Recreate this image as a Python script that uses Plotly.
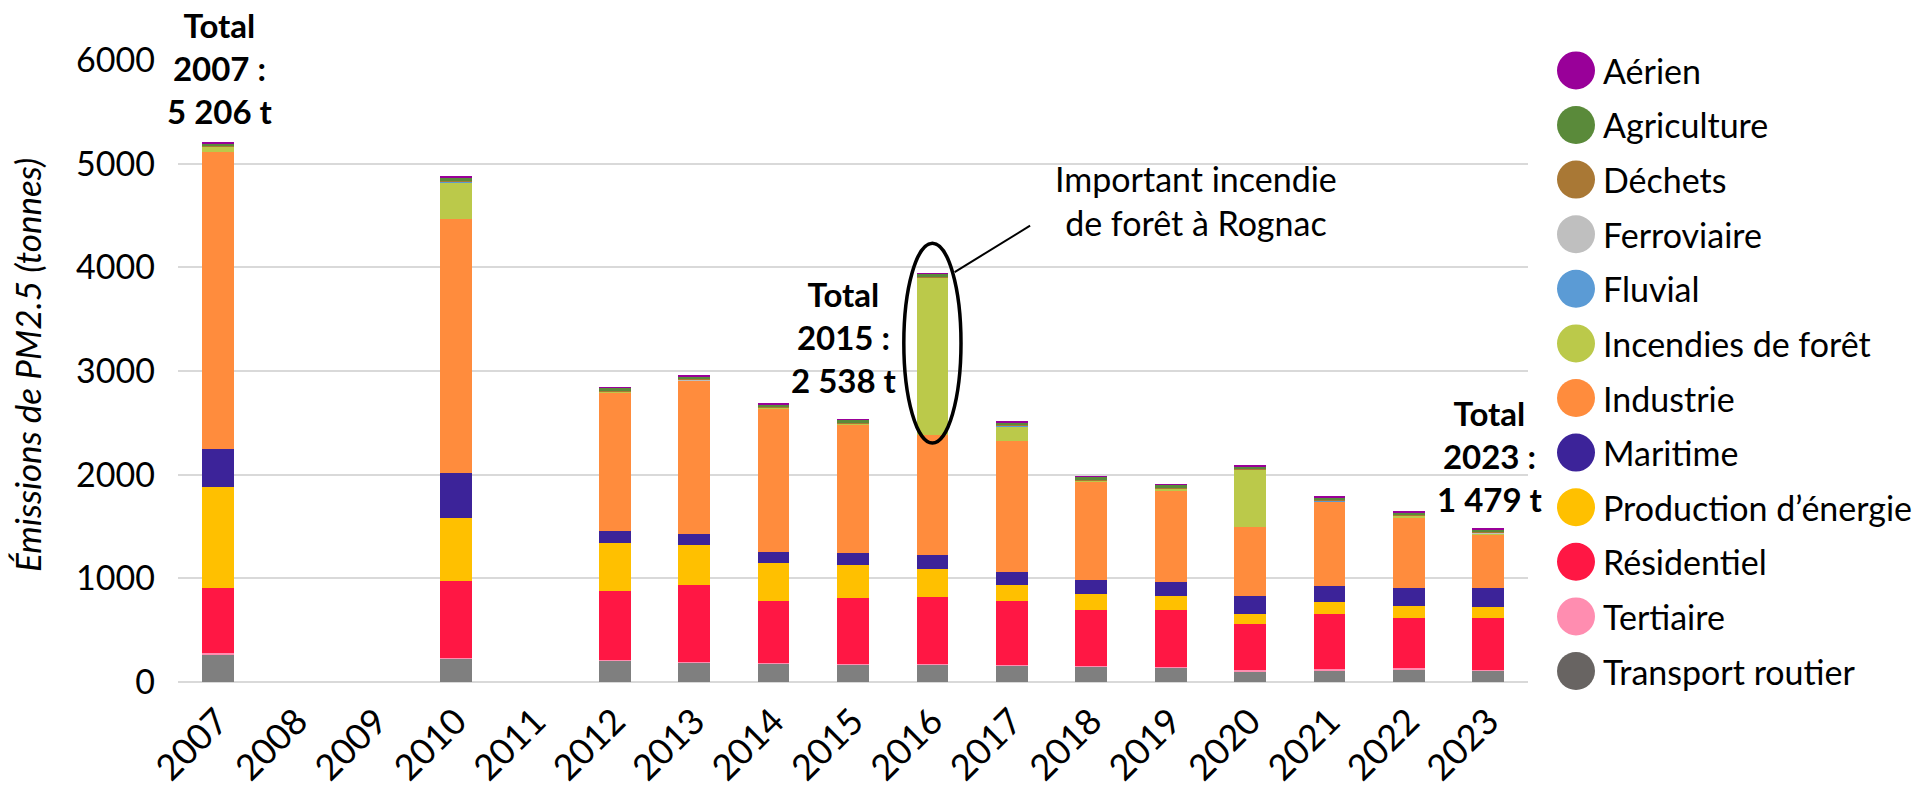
import plotly.graph_objects as go

# ---------------- data ----------------
years = [2007, 2008, 2009, 2010, 2011, 2012, 2013, 2014, 2015, 2016, 2017, 2018, 2019, 2020, 2021, 2022, 2023]
year_labels = [str(y) for y in years]

transport_routier = [270, None, None, 229, None, 209, 190, 180, 170, 170, 161, 146, 139, 105, 115, 125, 113]
tertiaire =         [6, None, None, 6, None, 6, 6, 6, 6, 6, 6, 6, 6, 6, 6, 6, 6]
residentiel =       [633, None, None, 744, None, 666, 740, 592, 637, 644, 614, 538, 545, 444, 539, 486, 498]
production_energie = [976, None, None, 603, None, 460, 382, 367, 312, 267, 151, 163, 136, 102, 115, 119, 110]
maritime =          [362, None, None, 432, None, 116, 110, 112, 119, 135, 129, 132, 135, 176, 153, 168, 183]
industrie =         [2864, None, None, 2450, None, 1334, 1479, 1380, 1238, 1157, 1267, 951, 891, 660, 809, 678, 508]
incendies =         [52, None, None, 359, None, 10, 5, 8, 12, 1521, 141, 8, 15, 552, 8, 20, 18]
fluvial =           [1, None, None, 1, None, 1, 1, 1, 1, 1, 1, 1, 1, 1, 1, 1, 1]
ferroviaire =       [3, None, None, 4, None, 3, 3, 3, 3, 3, 3, 3, 3, 3, 3, 3, 3]
dechets =           [3, None, None, 4, None, 3, 3, 3, 3, 3, 3, 3, 3, 3, 3, 3, 3]
agriculture =       [28, None, None, 38, None, 28, 28, 28, 28, 30, 28, 28, 28, 28, 28, 28, 28]
aerien =            [8, None, None, 12, None, 8, 8, 8, 8, 8, 8, 8, 8, 8, 8, 8, 8]

# stacking order, bottom to top: (name, values, bar colour, legend colour)
series = [
    ("Transport routier", transport_routier, "#7F7F7F", "#686462"),
    ("Tertiaire", tertiaire, "#FF8DB0", "#FF8DB0"),
    ("Résidentiel", residentiel, "#FF1744", "#FF1744"),
    ("Production d’énergie", production_energie, "#FFC000", "#FFC000"),
    ("Maritime", maritime, "#3C2399", "#3C2399"),
    ("Industrie", industrie, "#FF8C3D", "#FF8C3D"),
    ("Incendies de forêt", incendies, "#BBC94A", "#BBC94A"),
    ("Fluvial", fluvial, "#5B9BD5", "#5B9BD5"),
    ("Ferroviaire", ferroviaire, "#BFBFBF", "#BFBFBF"),
    ("Déchets", dechets, "#A97835", "#A97835"),
    ("Agriculture", agriculture, "#5A8A3A", "#5A8A3A"),
    ("Aérien", aerien, "#990099", "#990099"),
]

totals_text = {2007: "5 206 t", 2015: "2 538 t", 2023: "1 479 t"}
fire_note = "Important incendie<br>de forêt à Rognac"
y_title = "Émissions de PM2.5 (tonnes)"

# ---------------- layout geometry (pixels) ----------------
W, H = 1921, 791
L, R, T, B = 178, 1528, 60, 682
FONT = "Lato"


def px_x(X):
    return (X - L) / (R - L)


def px_y(Y):
    return (B - Y) / (B - T)


fig = go.Figure()
for name, vals, col, _ in series:
    xs = [y for y, v in zip(years, vals) if v is not None]
    vs = [v for v in vals if v is not None]
    fig.add_trace(go.Bar(x=xs, y=vs, name=name, marker=dict(color=col, line=dict(width=0)),
                         width=0.40, showlegend=False))

fig.update_layout(
    width=W, height=H, barmode="stack", bargap=0.6,
    margin=dict(l=L, r=W - R, t=T, b=H - B, pad=0, autoexpand=False),
    plot_bgcolor="white", paper_bgcolor="white",
    font=dict(family=FONT, size=33, color="black"),
    showlegend=False,
)
fig.update_xaxes(range=[years[0] - 0.5, years[-1] + 0.5], tickmode="array", tickvals=years,
                 ticktext=year_labels, tickangle=-45, showgrid=False, zeroline=False, automargin=False,
                 showline=False, ticks="", ticklabelstandoff=10, tickfont=dict(size=36, family=FONT))
fig.update_yaxes(range=[0, 6000], tickvals=[0, 1000, 2000, 3000, 4000, 5000, 6000], tickformat="d",
                 showgrid=True, gridcolor="#D9D9D9", gridwidth=1.5, zeroline=True, automargin=False,
                 zerolinecolor="#D9D9D9", zerolinewidth=1.5, showline=False, ticks="",
                 ticklabelstandoff=22, tickfont=dict(size=34, family=FONT))

# axis title
fig.add_annotation(xref="paper", yref="paper", x=px_x(27), y=px_y(365), text=f"<i>{y_title}</i>",
                   textangle=-90, showarrow=False, xanchor="center", yanchor="middle",
                   font=dict(size=35, family=FONT, color="black"))

# total annotations
for yr, (cx, cy) in {2007: (220, 68), 2015: (844, 337), 2023: (1490, 456)}.items():
    fig.add_annotation(xref="paper", yref="paper", x=px_x(cx), y=px_y(cy),
                       text=f"<b>Total<br>{yr} :<br>{totals_text[yr]}</b>", showarrow=False,
                       xanchor="center", yanchor="middle", align="center",
                       font=dict(size=33, family=FONT, color="black"))

fig.add_annotation(xref="paper", yref="paper", x=px_x(1196), y=px_y(201), text=fire_note,
                   showarrow=False, xanchor="center", yanchor="middle", align="center",
                   font=dict(size=34, family=FONT, color="black"))

# ellipse around the 2016 forest fire bar and connector
fig.add_shape(type="circle", xref="x", yref="y", x0=2016 - 0.36, x1=2016 + 0.36, y0=2305, y1=4233,
              line=dict(color="black", width=3.5), fillcolor="rgba(0,0,0,0)")
fig.add_shape(type="line", xref="x", yref="y", x0=2016.28, y0=3954, x1=2017.23, y1=4402,
              line=dict(color="black", width=2))

# manual legend with round markers
legend_order = list(reversed(series))
for i, (name, _, _, lcol) in enumerate(legend_order):
    cy = 70.4 + i * 54.6
    fig.add_shape(type="circle", xref="paper", yref="paper", xsizemode="pixel", ysizemode="pixel",
                  xanchor=px_x(1576), yanchor=px_y(cy), x0=-19, x1=19, y0=-19, y1=19,
                  fillcolor=lcol, line=dict(width=0))
    fig.add_annotation(xref="paper", yref="paper", x=px_x(1601), y=px_y(cy), text=name,
                       showarrow=False, xanchor="left", yanchor="middle",
                       font=dict(size=34, family=FONT, color="black"))

fig.write_html("out.html", config={"displayModeBar": False},
               post_script="document.body.style.margin='0';document.body.style.overflow='hidden';")
